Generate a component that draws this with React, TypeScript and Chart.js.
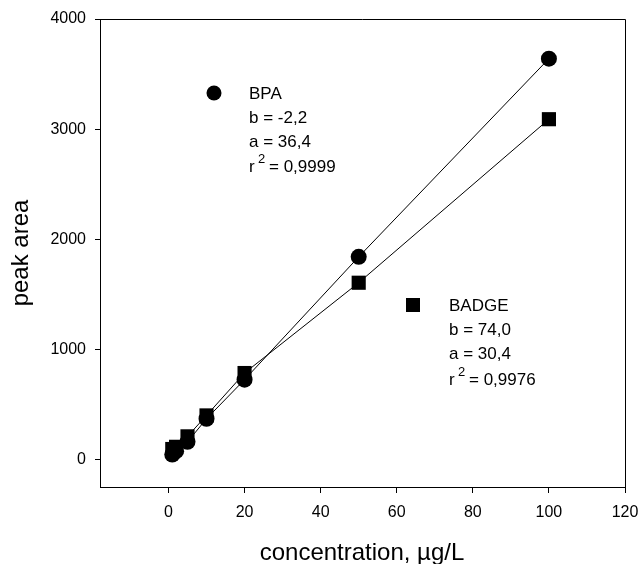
import React, { useEffect, useRef } from "react";
import { Chart, registerables } from "chart.js";

Chart.register(...registerables);

const concentrations = [1, 2, 5, 10, 20, 50, 100];
const bpaArea = [45, 75, 160, 370, 725, 1840, 3640];
const badgeArea = [95, 115, 210, 400, 785, 1605, 3090];
const xTicks = [0, 20, 40, 60, 80, 100, 120];
const yTicks = [0, 1000, 2000, 3000, 4000];
const bpaLegend = ["BPA", "b = -2,2", "a = 36,4", "= 0,9999"];
const badgeLegend = ["BADGE", "b = 74,0", "a = 30,4", "= 0,9976"];
const xTitle = "concentration, \u00b5g/L";
const yTitle = "peak area";

const FONT = "'Liberation Sans', Arial, sans-serif";

function drawLegend(
  ctx: CanvasRenderingContext2D,
  kind: "circle" | "square",
  mx: number,
  my: number,
  tx: number,
  baselines: number[],
  lines: string[]
) {
  ctx.save();
  ctx.fillStyle = "#000";
  if (kind === "circle") {
    ctx.beginPath();
    ctx.arc(mx, my, 7.5, 0, Math.PI * 2);
    ctx.fill();
  } else {
    ctx.fillRect(mx - 7, my - 7, 14, 14);
  }
  ctx.font = `17px ${FONT}`;
  ctx.textAlign = "left";
  ctx.textBaseline = "alphabetic";
  ctx.fillText(lines[0], tx, baselines[0]);
  ctx.fillText(lines[1], tx, baselines[1]);
  ctx.fillText(lines[2], tx, baselines[2]);
  ctx.fillText("r", tx, baselines[3]);
  ctx.font = `13px ${FONT}`;
  ctx.fillText("2", tx + 9, baselines[3] - 9);
  ctx.font = `17px ${FONT}`;
  ctx.fillText(lines[3], tx + 20, baselines[3]);
  ctx.restore();
}

const decorPlugin = {
  id: "decor",
  afterDraw(chart: any) {
    const { ctx, chartArea } = chart;
    const { left, right, top, bottom } = chartArea;
    ctx.save();
    ctx.strokeStyle = "#000";
    ctx.lineWidth = 1;
    ctx.beginPath();
    ctx.moveTo(left, top + 0.5);
    ctx.lineTo(right + 0.5, top + 0.5);
    ctx.lineTo(right + 0.5, bottom);
    ctx.stroke();

    ctx.fillStyle = "#000";
    ctx.font = `24px ${FONT}`;
    ctx.textAlign = "center";
    ctx.textBaseline = "alphabetic";
    ctx.fillText(xTitle, 362, 560);

    ctx.save();
    ctx.translate(28, 253);
    ctx.rotate(-Math.PI / 2);
    ctx.fillText(yTitle, 0, 0);
    ctx.restore();

    drawLegend(ctx, "circle", 214, 93, 249, [99, 123, 147, 172], bpaLegend);
    drawLegend(ctx, "square", 413, 305, 449, [311, 335, 359, 385], badgeLegend);
    ctx.restore();
  },
};

export default function App() {
  const canvasRef = useRef<HTMLCanvasElement | null>(null);

  useEffect(() => {
    const canvas = canvasRef.current;
    if (!canvas) return;
    const tickFont = { family: FONT, size: 16 };
    const chart = new Chart(canvas, {
      type: "scatter",
      data: {
        datasets: [
          {
            label: "BADGE",
            data: concentrations.map((x, i) => ({ x, y: badgeArea[i] })),
            showLine: true,
            borderColor: "#000",
            borderWidth: 1,
            backgroundColor: "#000",
            pointStyle: "rect",
            pointRadius: 10,
            pointBorderWidth: 0,
          },
          {
            label: "BPA",
            data: concentrations.map((x, i) => ({ x, y: bpaArea[i] })),
            showLine: true,
            borderColor: "#000",
            borderWidth: 1,
            backgroundColor: "#000",
            pointStyle: "circle",
            pointRadius: 8,
            pointBorderWidth: 0,
          },
        ],
      },
      options: {
        responsive: false,
        animation: false,
        devicePixelRatio: 1,
        layout: { padding: { left: 0, top: 19, right: 14, bottom: 0 } },
        plugins: {
          legend: { display: false },
          tooltip: { enabled: false },
        },
        scales: {
          x: {
            type: "linear",
            min: -18,
            max: 120,
            afterBuildTicks: (scale: any) => {
              scale.ticks = xTicks.map((v) => ({ value: v }));
            },
            afterFit: (scale: any) => {
              scale.height = 77;
              scale.paddingLeft = 0;
              scale.paddingRight = 0;
            },
            ticks: {
              color: "#000",
              font: tickFont,
              padding: 10,
              maxRotation: 0,
              autoSkip: false,
              callback: (v: any) => String(v),
            },
            grid: {
              drawOnChartArea: false,
              drawTicks: true,
              tickLength: 6,
              color: "#000",
              lineWidth: 1,
            },
            border: { display: true, color: "#000", width: 1 },
          },
          y: {
            type: "linear",
            min: -250,
            max: 4000,
            afterBuildTicks: (scale: any) => {
              scale.ticks = yTicks.map((v) => ({ value: v }));
            },
            afterFit: (scale: any) => {
              scale.width = 100;
              scale.paddingTop = 0;
              scale.paddingBottom = 0;
            },
            ticks: {
              color: "#000",
              font: tickFont,
              padding: 9,
              autoSkip: false,
              callback: (v: any) => String(v),
            },
            grid: {
              drawOnChartArea: false,
              drawTicks: true,
              tickLength: 5,
              color: "#000",
              lineWidth: 1,
            },
            border: { display: true, color: "#000", width: 1 },
          },
        },
      },
      plugins: [decorPlugin],
    } as any);
    return () => chart.destroy();
  }, []);

  return (
    <div style={{ position: "absolute", left: 0, top: 0, width: 639, height: 564, background: "#fff" }}>
      <canvas ref={canvasRef} width={639} height={564} />
    </div>
  );
}
